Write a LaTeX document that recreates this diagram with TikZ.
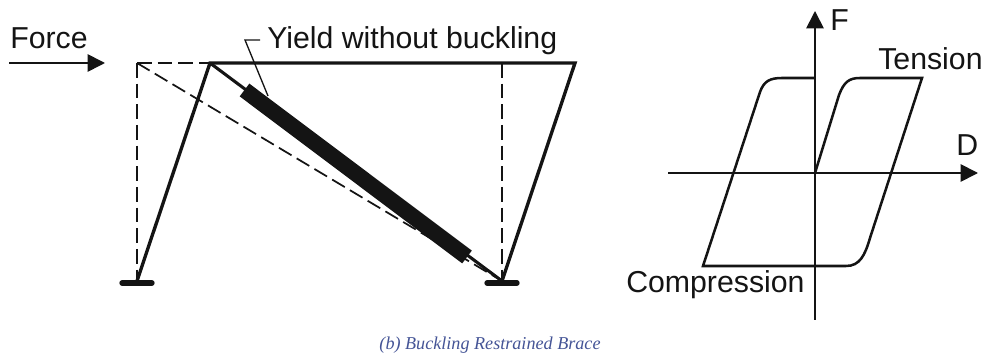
\documentclass[tikz,border=0pt]{standalone}
\usepackage{fontspec}
\setmainfont{Liberation Sans}
\newfontfamily\capfont{Liberation Serif}
\usetikzlibrary{arrows.meta}
\definecolor{capblue}{RGB}{68,84,150}
\definecolor{ink}{RGB}{20,20,20}
\tikzset{
 x=0.75pt,y=-0.75pt,
 frame/.style={line width=2.5pt,draw=ink,line cap=round},
 dashline/.style={line width=1.3pt,draw=ink,dash pattern=on 11pt off 4.5pt},
 base/.style={line width=4pt,draw=ink,line cap=round},
 axis/.style={line width=1.3pt,draw=ink,-{Triangle[length=13pt,width=13pt]}},
 curve/.style={line width=1.9pt,draw=ink,line join=miter},
 lab/.style={font=\fontsize{22.7pt}{24pt}\selectfont,text=ink,inner sep=0pt,anchor=base west},
}
\begin{document}
\begin{tikzpicture}
\useasboundingbox (0,0) rectangle (986,363);
\coordinate (forceA) at (9,63);
\coordinate (forceB) at (105,63);
\coordinate (dtl) at (137,63);
\coordinate (tl) at (210,63);
\coordinate (tr) at (575,63);
\coordinate (bl) at (137,281);
\coordinate (br) at (502,281);
\coordinate (dtr) at (502,63);
\coordinate (sa) at (244.5,90);
\coordinate (sb) at (467,257);
\coordinate (baseLa) at (122,283);
\coordinate (baseLb) at (152,283);
\coordinate (baseRa) at (487,283);
\coordinate (baseRb) at (517,283);
\coordinate (l1) at (260,40);
\coordinate (l2) at (245,40);
\coordinate (l3) at (268,96);
\coordinate (o) at (815,173);
\coordinate (fbot) at (815,320);
\coordinate (ftop) at (815,11);
\coordinate (dleft) at (668,173);
\coordinate (dright) at (978,173);
\node[lab] (force) at (10,49) {Force};
\node[lab] (yield) at (267,49) {Yield without buckling};
\node[lab] (fl) at (830,31) {F};
\node[lab] (dl) at (956,156) {D};
\node[lab] (tens) at (878,70) {Tension};
\node[lab] (comp) at (626,293) {Compression};
\node[font=\capfont\itshape\fontsize{13.6pt}{15pt}\selectfont,text=capblue,inner sep=0pt,anchor=base] (cap) at (490,350) {(b) Buckling Restrained Brace};
\draw[axis,line width=1.2pt] (forceA) -- (forceB);
\draw[dashline] (dtl) -- (tl);
\draw[dashline] (dtl) -- (bl);
\draw[dashline] (dtl) -- (br);
\draw[dashline] (dtr) -- (br);
\draw[frame] (bl) -- (tl) -- (tr) -- (br);
\draw[line width=2.3pt,draw=ink] (tl) -- (br);
\draw[line width=12pt,draw=ink] (sa) -- (sb);
\draw[base] (baseLa) -- (baseLb);
\draw[base] (baseRa) -- (baseRb);
\draw[line width=1pt,draw=ink] (l1) -- (l2) -- (l3);
\draw[axis] (fbot) -- (ftop);
\draw[axis] (dleft) -- (dright);
\draw[curve] (o) -- (839,95) .. controls (844,82) and (849,78) .. (860,78) -- (922,78)
 -- (870,238) .. controls (865,255) and (860,266) .. (846,266) -- (703,266)
 -- (760,92) .. controls (764,81) and (770,78) .. (782,78) -- (815,78);
\end{tikzpicture}
\end{document}
